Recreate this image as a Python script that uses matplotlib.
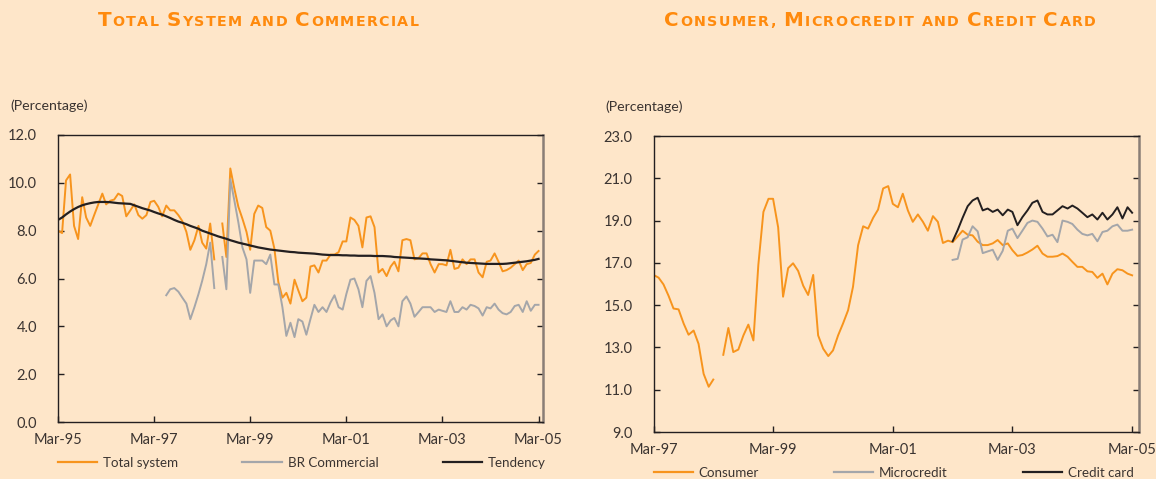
import numpy as np
import pandas as pd
import matplotlib
matplotlib.use("Agg")
import matplotlib.pyplot as plt
from matplotlib.lines import Line2D
from matplotlib.offsetbox import TextArea, HPacker, AnchoredOffsetbox

nan = np.nan

# ---------------- data: left panel (monthly, %) ----------------
left_start = "1995-03"
total_system = [
    8.0, 7.9, 10.1, 10.35, 8.2, 7.65, 9.4, 8.55, 8.2, 8.65,
    9.1, 9.55, 9.1, 9.25, 9.3, 9.55, 9.45, 8.6, 8.85, 9.1,
    8.65, 8.5, 8.65, 9.2, 9.25, 9.0, 8.6, 9.05, 8.85, 8.85,
    8.65, 8.4, 7.95, 7.2, 7.6, 8.2, 7.5, 7.25, 8.3, 6.8,
    nan, 8.3, 6.9, 10.6, 9.75, 9.0, 8.5, 7.95, 7.2, 8.7,
    9.05, 8.95, 8.15, 8.0, 7.25, 5.85, 5.2, 5.4, 4.95, 5.95,
    5.5, 5.05, 5.2, 6.5, 6.55, 6.25, 6.75, 6.75, 7.0, 7.0,
    7.1, 7.55, 7.55, 8.55, 8.45, 8.2, 7.3, 8.55, 8.6, 8.15,
    6.25, 6.4, 6.1, 6.5, 6.7, 6.3, 7.6, 7.65, 7.6, 6.8,
    6.85, 7.05, 7.05, 6.6, 6.25, 6.6, 6.6, 6.55, 7.2, 6.4,
    6.45, 6.8, 6.6, 6.8, 6.8, 6.25, 6.05, 6.7, 6.75, 7.05,
    6.7, 6.3, 6.35, 6.45, 6.6, 6.75, 6.35, 6.6, 6.65, 7.0,
    7.15,
]

commercial_start = "1997-06"
br_commercial = [
    5.3, 5.55, 5.6, 5.45, 5.2, 4.95, 4.3, 4.8, 5.35, 5.9,
    6.6, 7.5, 5.6, nan, 6.9, 5.55, 10.15, 9.25, 8.35, 7.3,
    6.8, 5.4, 6.75, 6.75, 6.75, 6.6, 7.0, 5.75, 5.75, 4.8,
    3.6, 4.15, 3.55, 4.3, 4.2, 3.65, 4.3, 4.9, 4.6, 4.8,
    4.6, 5.0, 5.3, 4.8, 4.7, 5.35, 5.95, 6.0, 5.55, 4.8,
    5.9, 6.1, 5.4, 4.3, 4.5, 4.0, 4.25, 4.35, 4.0, 5.05,
    5.25, 4.95, 4.4, 4.6, 4.8, 4.8, 4.8, 4.6, 4.7, 4.65,
    4.6, 5.05, 4.6, 4.6, 4.8, 4.7, 4.9, 4.85, 4.75, 4.45,
    4.8, 4.75, 4.95, 4.7, 4.55, 4.5, 4.6, 4.85, 4.9, 4.6,
    5.05, 4.65, 4.9, 4.9,
]

tendency = [
    8.45, 8.55, 8.68, 8.8, 8.9, 8.99, 9.06, 9.11, 9.15, 9.18,
    9.2, 9.2, 9.2, 9.19, 9.17, 9.15, 9.14, 9.13, 9.12, 9.06,
    9.0, 8.94, 8.89, 8.84, 8.78, 8.72, 8.67, 8.6, 8.53, 8.45,
    8.38, 8.33, 8.27, 8.2, 8.14, 8.08, 8.0, 7.94, 7.88, 7.82,
    7.76, 7.71, 7.66, 7.6, 7.55, 7.5, 7.46, 7.42, 7.38, 7.34,
    7.3, 7.27, 7.24, 7.21, 7.19, 7.17, 7.15, 7.13, 7.11, 7.1,
    7.08, 7.07, 7.06, 7.05, 7.04, 7.02, 7.0, 6.99, 6.98, 6.98,
    6.98, 6.97, 6.97, 6.96, 6.96, 6.95, 6.95, 6.95, 6.95, 6.94,
    6.94, 6.94, 6.93, 6.92, 6.9, 6.89, 6.88, 6.87, 6.86, 6.85,
    6.84, 6.83, 6.82, 6.8, 6.79, 6.78, 6.77, 6.76, 6.74, 6.72,
    6.7, 6.68, 6.66, 6.65, 6.64, 6.63, 6.62, 6.61, 6.61, 6.61,
    6.61, 6.61, 6.62, 6.64, 6.66, 6.68, 6.7, 6.72, 6.75, 6.78,
    6.82,
]

left_ticks = ["Mar-95", "Mar-97", "Mar-99", "Mar-01", "Mar-03", "Mar-05"]
left_yticks = [0.0, 2.0, 4.0, 6.0, 8.0, 10.0, 12.0]

# ---------------- data: right panel (monthly, %) ----------------
right_start = "1997-03"
consumer = [
    16.43, 16.3, 15.98, 15.44, 14.84, 14.8, 14.13, 13.6, 13.8, 13.17,
    11.75, 11.14, 11.48, nan, 12.65, 13.92, 12.78, 12.9, 13.57, 14.08,
    13.33, 16.9, 19.41, 20.03, 20.03, 18.68, 15.4, 16.75, 16.98, 16.62,
    15.92, 15.48, 16.43, 13.57, 12.94, 12.59, 12.86, 13.57, 14.13, 14.76,
    15.87, 17.83, 18.73, 18.62, 19.13, 19.52, 20.52, 20.63, 19.79, 19.63,
    20.27, 19.48, 18.94, 19.29, 18.94, 18.52, 19.21, 18.94, 17.94, 18.05,
    17.98, 18.25, 18.52, 18.33, 18.3, 18.0, 17.84, 17.84, 17.92, 18.08,
    17.84, 17.92, 17.6, 17.33, 17.37, 17.49, 17.63, 17.81, 17.44, 17.29,
    17.29, 17.32, 17.44, 17.29, 17.05, 16.81, 16.81, 16.6, 16.57, 16.29,
    16.49, 15.98, 16.49, 16.7, 16.65, 16.49, 16.41,
]

card_start = "2002-03"
microcredit = [
    17.14, 17.19, 18.1, 18.21, 18.73, 18.49, 17.46, 17.54, 17.62, 17.14,
    17.57, 18.52, 18.62, 18.17, 18.52, 18.89, 19.0, 18.94, 18.62, 18.25,
    18.33, 17.98, 19.0, 18.94, 18.84, 18.57, 18.37, 18.3, 18.37, 18.02,
    18.46, 18.52, 18.73, 18.81, 18.52, 18.52, 18.57,
]
credit_card = [
    18.02, 18.55, 19.13, 19.68, 19.95, 20.08, 19.48, 19.57, 19.41, 19.52,
    19.25, 19.52, 19.41, 18.78, 19.16, 19.48, 19.84, 19.95, 19.41, 19.29,
    19.29, 19.48, 19.68, 19.57, 19.71, 19.57, 19.37, 19.16, 19.29, 19.05,
    19.37, 19.05, 19.29, 19.63, 19.1, 19.63, 19.37,
]

right_ticks = ["Mar-97", "Mar-99", "Mar-01", "Mar-03", "Mar-05"]
right_yticks = [9.0, 11.0, 13.0, 15.0, 17.0, 19.0, 21.0, 23.0]

# ---------------- styling ----------------
BG = "#FEE6C9"
ORANGE = "#F7941D"
GREY = "#A4A6AA"
BLACK = "#231F20"
INK = "#3B3431"
TITLE = "#FF8A0D"
FONT = ["Lato", "DejaVu Sans"]

plt.rcParams["font.family"] = FONT
plt.rcParams["axes.linewidth"] = 1.0

W, H = 1156, 479
fig = plt.figure(figsize=(W / 100, H / 100), dpi=100, facecolor=BG)


def monthly(start, values):
    return pd.date_range(start=start, periods=len(values), freq="MS")


def small_caps(text, big=14.3, small=10.3, track=1.0):
    """Upper-case letters large, the rest as small capitals, lightly tracked."""
    kids = []
    for ch in text:
        size = big if ch.isupper() else small
        kids.append(TextArea(ch.upper(), textprops=dict(color=TITLE, fontsize=size,
                                                        fontweight="bold",
                                                        family=["DejaVu Sans"])))
    return HPacker(children=kids, align="baseline", pad=0, sep=track)


def add_title(text, xc, yc):
    box = AnchoredOffsetbox(loc="center", child=small_caps(text), pad=0, borderpad=0,
                            frameon=False, bbox_to_anchor=(xc / W, 1 - yc / H),
                            bbox_transform=fig.transFigure)
    fig.add_artist(box)


def style_axes(ax, yticks, xlabels, xlim, ylim, ypad, xpad):
    ax.set_facecolor(BG)
    for side in ("left", "top", "bottom"):
        ax.spines[side].set_color(BLACK)
        ax.spines[side].set_linewidth(1.0)
    ax.spines["right"].set_color("#8A7E76")
    ax.spines["right"].set_linewidth(1.8)
    ax.set_ylim(*ylim)
    ax.set_yticks(yticks)
    ax.set_yticklabels([f"{v:.1f}" for v in yticks])
    xt = pd.to_datetime(xlabels, format="%b-%y")
    ax.set_xticks(xt)
    ax.set_xticklabels(xlabels)
    ax.set_xlim(*xlim)
    ax.tick_params(axis="y", direction="in", length=4, width=1.0, color=BLACK,
                   left=True, right=True, labelsize=10.5, labelcolor=INK, pad=ypad)
    ax.tick_params(axis="x", direction="in", length=4, width=1.0, color=BLACK,
                   bottom=True, top=False, labelsize=10.5, labelcolor=INK, pad=xpad)


def add_legend(ax, handles, labels, yoff, colsp):
    ax.legend(handles, labels, loc="center left", bbox_to_anchor=(0, yoff), ncol=3,
              frameon=False, fontsize=9.6, handlelength=2.95, handletextpad=0.45,
              columnspacing=colsp, borderpad=0, borderaxespad=0, labelcolor=INK)


# ---------------- left panel ----------------
axL = fig.add_axes([58 / W, 1 - 422 / H, 485 / W, 287 / H])
axL.plot(monthly(left_start, total_system), total_system, color=ORANGE, lw=1.4)
axL.plot(monthly(commercial_start, br_commercial), br_commercial, color=GREY, lw=1.4)
axL.plot(monthly(left_start, tendency), tendency, color=BLACK, lw=1.6)
style_axes(axL, left_yticks, left_ticks,
           (pd.Timestamp("1995-03-01"), pd.Timestamp("2005-04-04")), (0, 12),
           ypad=15, xpad=8)
add_legend(axL,
           [Line2D([], [], color=ORANGE, lw=1.6), Line2D([], [], color=GREY, lw=1.6),
            Line2D([], [], color=BLACK, lw=1.6)],
           ["Total system", "BR Commercial", "Tendency"], -41 / 287, 4.8)
fig.text(10 / W, 1 - 106 / H, "(Percentage)", fontsize=10.2, color=INK, va="center", ha="left")
add_title("Total System and Commercial", 258, 21)

# ---------------- right panel ----------------
axR = fig.add_axes([653.5 / W, 1 - 432 / H, 485.5 / W, 296 / H])
axR.plot(monthly(right_start, consumer), consumer, color=ORANGE, lw=1.4)
axR.plot(monthly(card_start, microcredit), microcredit, color=GREY, lw=1.4)
axR.plot(monthly(card_start, credit_card), credit_card, color=BLACK, lw=1.4)
style_axes(axR, right_yticks, right_ticks,
           (pd.Timestamp("1997-03-01"), pd.Timestamp("2005-04-12")), (9, 23),
           ypad=15, xpad=8)
add_legend(axR,
           [Line2D([], [], color=ORANGE, lw=1.6), Line2D([], [], color=GREY, lw=1.6),
            Line2D([], [], color=BLACK, lw=1.6)],
           ["Consumer", "Microcredit", "Credit card"], -41 / 296, 5.6)
fig.text(605 / W, 1 - 107 / H, "(Percentage)", fontsize=10.2, color=INK, va="center", ha="left")
add_title("Consumer, Microcredit and Credit Card", 880, 21)

fig.savefig("out.png", dpi=100, facecolor=BG)
